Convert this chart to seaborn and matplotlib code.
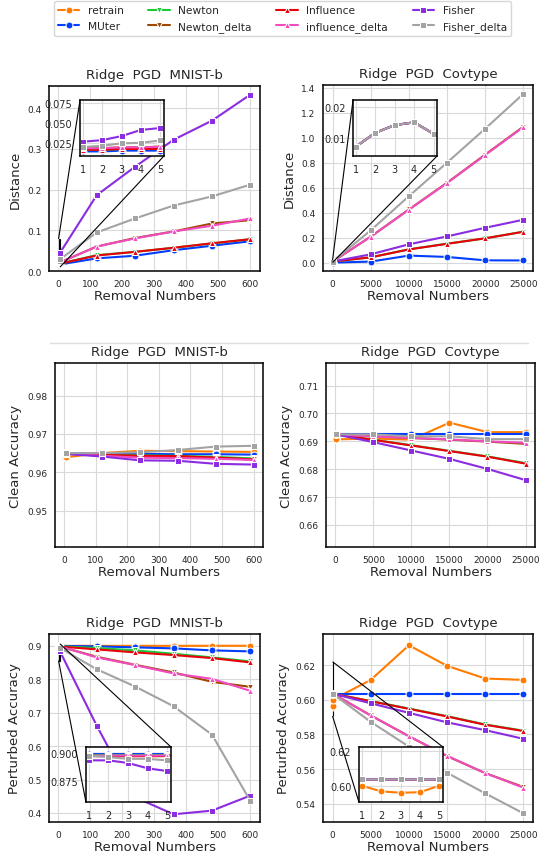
import pandas as pd
import matplotlib
matplotlib.use("Agg")
import matplotlib.pyplot as plt
import seaborn as sns
from matplotlib.lines import Line2D
from mpl_toolkits.axes_grid1.inset_locator import mark_inset

# --- methods / styles
methods = ["retrain", "MUter", "Newton", "Newton_delta",
           "Influence", "influence_delta", "Fisher", "Fisher_delta"]
colors = ["#ff7c00", "#023eff", "#1ac938", "#9f4800",
          "#e8000b", "#f14cc1", "#8b2be2", "#a3a3a3"]
marks = ["o", "o", "v", "v", "^", "^", "s", "s"]

x_mnist = [1, 2, 3, 4, 5, 120, 240, 360, 480, 600]
x_cov = [1, 2, 3, 4, 5, 5000, 10000, 15000, 20000, 25000]

# --- Distance (no retrain curve)
dist_mnist = {
    "MUter":           [0.015, 0.015, 0.016, 0.016, 0.016, 0.031, 0.0375, 0.051, 0.062, 0.073],
    "Newton":          [0.017, 0.017, 0.018, 0.018, 0.018, 0.039, 0.047, 0.057, 0.0676, 0.078],
    "Newton_delta":    [0.019, 0.019, 0.020, 0.020, 0.021, 0.060, 0.081, 0.097, 0.1166, 0.1247],
    "Influence":       [0.017, 0.017, 0.018, 0.018, 0.018, 0.038, 0.047, 0.057, 0.068, 0.078],
    "influence_delta": [0.019, 0.019, 0.020, 0.020, 0.021, 0.060, 0.080, 0.097, 0.111, 0.129],
    "Fisher":          [0.027, 0.029, 0.034, 0.0417, 0.044, 0.186, 0.256, 0.322, 0.369, 0.433],
    "Fisher_delta":    [0.0205, 0.022, 0.025, 0.0257, 0.0286, 0.0946, 0.129, 0.1606, 0.183, 0.212],
}
dist_cov = {
    "MUter":           [0.003, 0.003, 0.003, 0.003, 0.003, 0.011, 0.059, 0.048, 0.021, 0.020],
    "Newton":          [0.0072, 0.0117, 0.0142, 0.0151, 0.0114, 0.045, 0.109, 0.154, 0.196, 0.250],
    "Newton_delta":    [0.0072, 0.0117, 0.0142, 0.0151, 0.0114, 0.210, 0.427, 0.640, 0.865, 1.088],
    "Influence":       [0.0072, 0.0117, 0.0142, 0.0151, 0.0114, 0.045, 0.108, 0.153, 0.197, 0.249],
    "influence_delta": [0.0072, 0.0117, 0.0142, 0.0151, 0.0114, 0.210, 0.425, 0.638, 0.862, 1.085],
    "Fisher":          [0.0072, 0.0117, 0.0142, 0.0151, 0.0114, 0.069, 0.149, 0.212, 0.281, 0.345],
    "Fisher_delta":    [0.0072, 0.0117, 0.0142, 0.0151, 0.0114, 0.260, 0.533, 0.801, 1.072, 1.350],
}

# --- Clean accuracy
clean_mnist = {
    "retrain":         [0.9639] * 5 + [0.9650, 0.9656, 0.9655, 0.9654, 0.9653],
    "MUter":           [0.9650] * 5 + [0.9648, 0.9648, 0.9647, 0.9647, 0.9646],
    "Newton":          [0.9648] * 5 + [0.9646, 0.9644, 0.9643, 0.9640, 0.9636],
    "Newton_delta":    [0.9648] * 5 + [0.9645, 0.9642, 0.9641, 0.9638, 0.9634],
    "Influence":       [0.9648] * 5 + [0.9645, 0.9643, 0.9642, 0.9638, 0.9633],
    "influence_delta": [0.9648] * 5 + [0.9643, 0.9638, 0.9637, 0.9635, 0.9632],
    "Fisher":          [0.9648] * 5 + [0.9641, 0.9631, 0.9630, 0.9622, 0.9620],
    "Fisher_delta":    [0.9650] * 5 + [0.9650, 0.9652, 0.9658, 0.9667, 0.9669],
}
clean_cov = {
    "retrain":         [0.6907] * 5 + [0.6910, 0.6906, 0.6967, 0.6933, 0.6933],
    "MUter":           [0.6925] * 5 + [0.6925, 0.6925, 0.6925, 0.6925, 0.6925],
    "Newton":          [0.6925] * 5 + [0.6906, 0.6886, 0.6866, 0.6846, 0.6822],
    "Newton_delta":    [0.6925] * 5 + [0.6918, 0.6912, 0.6906, 0.6899, 0.6891],
    "Influence":       [0.6925] * 5 + [0.6905, 0.6885, 0.6865, 0.6845, 0.6820],
    "influence_delta": [0.6925] * 5 + [0.6917, 0.6912, 0.6907, 0.6900, 0.6895],
    "Fisher":          [0.6925] * 5 + [0.6897, 0.6867, 0.6837, 0.6801, 0.6761],
    "Fisher_delta":    [0.6925] * 5 + [0.6925, 0.6918, 0.6918, 0.6908, 0.6908],
}

# --- Perturbed accuracy
pert_mnist = {
    "retrain":         [0.8996] * 5 + [0.8996, 0.8996, 0.8996, 0.8998, 0.8998],
    "MUter":           [0.8994] * 5 + [0.898, 0.895, 0.892, 0.886, 0.883],
    "Newton":          [0.8985] * 5 + [0.893, 0.886, 0.876, 0.865, 0.853],
    "Newton_delta":    [0.8975] * 5 + [0.867, 0.843, 0.820, 0.792, 0.777],
    "Influence":       [0.8975] * 5 + [0.889, 0.880, 0.872, 0.863, 0.850],
    "influence_delta": [0.8980] * 5 + [0.865, 0.842, 0.817, 0.801, 0.765],
    "Fisher":          [0.8936, 0.8936, 0.8912, 0.8863, 0.8838, 0.661, 0.447, 0.396, 0.407, 0.452],
    "Fisher_delta":    [0.8980, 0.8965, 0.8950, 0.8950, 0.8935, 0.8296, 0.778, 0.719, 0.634, 0.4356],
}
pert_cov = {
    "retrain":         [0.6000, 0.5968, 0.5960, 0.5963, 0.6000, 0.6115, 0.6315, 0.6196, 0.6123, 0.6115],
    "MUter":           [0.6036] * 5 + [0.6036, 0.6036, 0.6036, 0.6036, 0.6036],
    "Newton":          [0.6036] * 5 + [0.5993, 0.5950, 0.5906, 0.5858, 0.5822],
    "Newton_delta":    [0.6036] * 5 + [0.5910, 0.5790, 0.5675, 0.5577, 0.5497],
    "Influence":       [0.6036] * 5 + [0.5992, 0.5948, 0.5904, 0.5856, 0.5820],
    "influence_delta": [0.6036] * 5 + [0.5910, 0.5790, 0.5677, 0.5577, 0.5493],
    "Fisher":          [0.6036] * 5 + [0.5980, 0.5925, 0.5870, 0.5825, 0.5775],
    "Fisher_delta":    [0.6036] * 5 + [0.5873, 0.5730, 0.5579, 0.5460, 0.5345],
}


def to_long(xs, vals):
    rows = []
    for m in methods:
        if m in vals:
            for x, v in zip(xs, vals[m]):
                rows.append((x, v, m))
    return pd.DataFrame(rows, columns=["removal", "value", "method"])


sns.set_style("whitegrid", {"axes.edgecolor": "black", "grid.color": ".85"})
plt.rcParams["font.family"] = ["DejaVu Sans"]
plt.rcParams["axes.linewidth"] = 1.1

palette = dict(zip(methods, colors))
markers = dict(zip(methods, marks))

W, H = 539, 862
fig = plt.figure(figsize=(W / 100, H / 100), dpi=100)


def px_axes(x0, y0, x1, y1):
    return fig.add_axes([x0 / W, 1 - y1 / H, (x1 - x0) / W, (y1 - y0) / H])


def draw(ax, df, legend=False):
    present = [m for m in methods if m in set(df["method"])]
    sns.lineplot(data=df, x="removal", y="value", hue="method", style="method",
                 hue_order=present, style_order=present,
                 palette=palette, markers=markers, dashes=False,
                 markersize=5, linewidth=1.5, ax=ax, legend=legend)


panels = [
    # rect, xs, data, ylabel, dataset, ylim, yticks, inset
    ((49, 87, 260, 272), x_mnist, dist_mnist, "Distance", "MNIST-b",
     (0, 0.454), [0.0, 0.1, 0.2, 0.3, 0.4],
     dict(b=(0.147, 0.622, 0.398, 0.302), yl=(0.0094, 0.0787), yt=[0.025, 0.05, 0.075], loc=(2, 4))),
    ((323, 86, 533, 272), x_cov, dist_cov, "Distance", "Covtype",
     (-0.064, 1.42), [0.0, 0.2, 0.4, 0.6, 0.8, 1.0, 1.2, 1.4],
     dict(b=(0.143, 0.618, 0.4, 0.301), yl=(0.0042, 0.0223), yt=[0.01, 0.02], loc=(2, 4))),
    ((55, 364, 263, 548), x_mnist, clean_mnist, "Clean Accuracy", "MNIST-b",
     (0.9405, 0.9885), [0.95, 0.96, 0.97, 0.98], None),
    ((326, 364, 535, 548), x_cov, clean_cov, "Clean Accuracy", "Covtype",
     (0.6521, 0.7181), [0.66, 0.67, 0.68, 0.69, 0.70, 0.71], None),
    ((49, 635, 260, 823), x_mnist, pert_mnist, "Perturbed Accuracy", "MNIST-b",
     (0.373, 0.935), [0.4, 0.5, 0.6, 0.7, 0.8, 0.9],
     dict(b=(0.175, 0.106, 0.403, 0.293), yl=(0.8555, 0.9058), yt=[0.875, 0.9], loc=(1, 3))),
    ((323, 635, 533, 823), x_cov, pert_cov, "Perturbed Accuracy", "Covtype",
     (0.5295, 0.638), [0.54, 0.56, 0.58, 0.60, 0.62],
     dict(b=(0.171, 0.106, 0.4, 0.293), yl=(0.5907, 0.622), yt=[0.60, 0.62], loc=(1, 3))),
]

handles, labels = None, None
for rect, xs, data, ylab, dset, ylim, yticks, ins in panels:
    ax = px_axes(*rect)
    df = to_long(xs, data)
    want_leg = handles is None and "retrain" in data
    draw(ax, df, legend=want_leg)
    if want_leg:
        handles, labels = ax.get_legend_handles_labels()
        ax.get_legend().remove()
    ax.set_title("Ridge  PGD  " + dset, fontsize=9.5)
    ax.set_xlabel("Removal Numbers", fontsize=9.5, labelpad=1)
    ax.set_ylabel(ylab, fontsize=9.5)
    if xs is x_mnist:
        ax.set_xticks([0, 100, 200, 300, 400, 500, 600])
    else:
        ax.set_xticks([0, 5000, 10000, 15000, 20000, 25000])
    ax.set_yticks(yticks)
    ax.set_ylim(*ylim)
    ax.tick_params(labelsize=6.5, pad=2)

    if ins is not None:
        axins = ax.inset_axes(ins["b"])
        draw(axins, df)
        axins.set_xlim(0.86, 5.18)
        axins.set_ylim(*ins["yl"])
        axins.set_xticks([1, 2, 3, 4, 5])
        axins.set_yticks(ins["yt"])
        axins.set_xlabel("")
        axins.set_ylabel("")
        axins.tick_params(labelsize=7, pad=2)
        for s in axins.spines.values():
            s.set_edgecolor("black")
        mark_inset(ax, axins, loc1=ins["loc"][0], loc2=ins["loc"][1],
                   fc="none", ec="black", lw=0.8)

# thin separator above the middle row
fig.add_artist(Line2D([50 / W, 528 / W], [1 - 344 / H, 1 - 344 / H],
                      color="#dddddd", lw=1.0))

fig.legend(handles, labels, loc="upper center", ncol=4, fontsize=7.7,
           bbox_to_anchor=(282.5 / W, 1 - 1 / H), borderaxespad=0.1,
           columnspacing=2.3, frameon=True)

fig.savefig("out.png", dpi=100)
